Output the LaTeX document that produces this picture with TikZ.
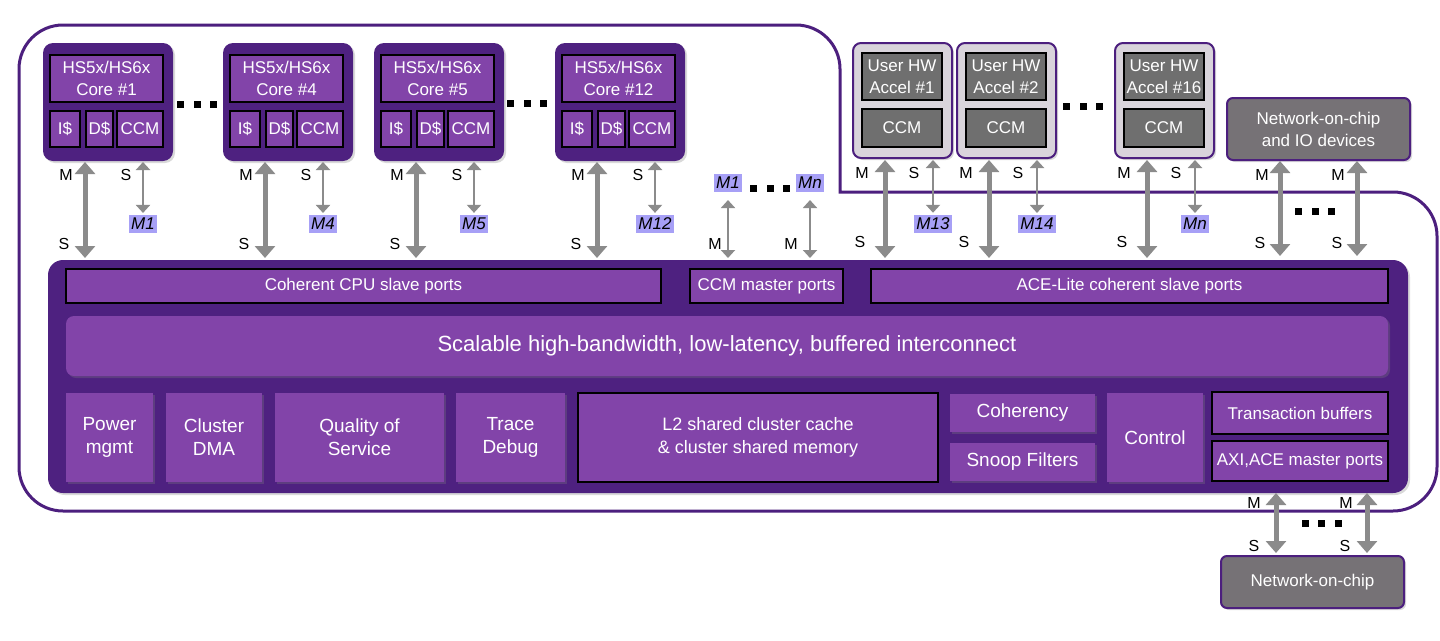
\documentclass[tikz,border=0pt]{standalone}
\usepackage{fontspec}
\setmainfont{Liberation Sans}
\usetikzlibrary{arrows.meta,shadows,calc}
\definecolor{dpur}{HTML}{4E2180}
\definecolor{lpur}{HTML}{8244A9}
\definecolor{outl}{HTML}{4C1F7E}
\definecolor{arrg}{HTML}{8B8B8B}
\definecolor{accbg}{HTML}{D9D4DB}
\definecolor{gry}{HTML}{6F6F6F}
\definecolor{nocg}{HTML}{767276}
\definecolor{hlc}{HTML}{A7A0F6}
\newcommand\sqdots[2]{\foreach \i in {0,1,2}{\fill[black] (#1+\i*16.5-3.5,#2-3.5) rectangle ++(7,7);}}
\begin{document}
\begin{tikzpicture}[x=1pt,y=-1pt,
  t16/.style={font=\fontsize{16}{20}\selectfont},
  t17/.style={font=\fontsize{17}{22}\selectfont},
  t19/.style={font=\fontsize{19}{23}\selectfont},
  t22/.style={font=\fontsize{22}{26}\selectfont},
  shd/.style={drop shadow={shadow xshift=2pt,shadow yshift=-2pt,opacity=0.3}},
  blk/.style={fill=lpur,text=white,inner sep=0pt,outer sep=0pt,align=center},
  bblk/.style={blk,draw=black,line width=1.2pt},
  cbox/.style={fill=dpur,rounded corners=10pt,inner sep=0pt,outer sep=0pt,shd},
  abox/.style={fill=accbg,draw=outl,line width=2pt,rounded corners=8pt,inner sep=0pt,outer sep=0pt,shd},
  gbox/.style={fill=gry,draw=black,line width=1.2pt,text=white,inner sep=0pt,outer sep=0pt,align=center},
  nbox/.style={fill=nocg,draw=outl,line width=2pt,rounded corners=6pt,text=white,inner sep=0pt,outer sep=0pt,align=center,shd},
  ms/.style={t16,inner sep=0pt},
  hl/.style={fill=hlc,font={\fontsize{17}{20}\selectfont\itshape},inner xsep=2pt,inner ysep=3pt},
  bigarr/.style={draw=arrg,line width=5pt,{Triangle[width=20pt,length=12pt]}-{Triangle[width=20pt,length=12pt]}},
  smarr/.style={draw=arrg,line width=2.5pt,{Triangle[width=14pt,length=8pt]}-{Triangle[width=14pt,length=8pt]}}
]
\useasboundingbox (0,0) rectangle (1440,640);
% outline
\draw[outl,line width=3pt] (19,300) -- (19,69) .. controls (19,44.7) and (38.7,25) .. (63,25) -- (796,25) .. controls (820.3,25) and (840,44.7) .. (840,69) -- (840,192) -- (1393,192) .. controls (1417.3,192) and (1437,211.7) .. (1437,236) -- (1437,467) .. controls (1437,491.3) and (1417.3,511) .. (1393,511) -- (63,511) .. controls (38.7,511) and (19,491.3) .. (19,467) -- cycle;
% main cluster
\node[fill=dpur,rounded corners=15pt,minimum width=1360pt,minimum height=233pt,inner sep=0pt,outer sep=0pt,shd] (main) at (728,376.5) {};
\node[bblk,t17,minimum width=595pt,minimum height=34pt] (ccpu) at (363.5,286) {Coherent CPU slave ports};
\node[bblk,t17,minimum width=153pt,minimum height=34pt] (ccmp) at (766.5,286) {CCM master ports};
\node[bblk,t17,minimum width=517pt,minimum height=34pt] (ace) at (1129.5,286) {ACE-Lite coherent slave ports};
\node[blk,t22,rounded corners=8pt,minimum width=1322pt,minimum height=60pt,shd] (icn) at (727,346) {Scalable high-bandwidth, low-latency, buffered interconnect};
\node[blk,t19,minimum width=87pt,minimum height=89pt,shd] (pwr) at (109.5,437.5) {Power\\mgmt};
\node[blk,t19,minimum width=96pt,minimum height=89pt,shd] (dma) at (214,437.5) {Cluster\\DMA};
\node[blk,t19,minimum width=169pt,minimum height=89pt,shd] (qos) at (359.5,437.5) {Quality of\\Service};
\node[blk,t19,minimum width=109pt,minimum height=89pt,shd] (trc) at (510.5,437.5) {Trace\\Debug};
\node[bblk,font=\fontsize{18}{23}\selectfont,minimum width=360pt,minimum height=89pt] (l2) at (758,437.5) {L2 shared cluster cache\\\& cluster shared memory};
\node[blk,t19,minimum width=145pt,minimum height=38pt,shd] (coh) at (1022.5,413) {Coherency};
\node[blk,t19,minimum width=145pt,minimum height=38pt,shd] (snp) at (1022.5,462) {Snoop Filters};
\node[blk,t19,minimum width=96pt,minimum height=89pt,shd] (ctl) at (1155,437.5) {Control};
\node[bblk,t17,minimum width=176pt,minimum height=42pt] (tb) at (1300,413) {Transaction buffers};
\node[bblk,t17,minimum width=176pt,minimum height=40pt] (axi) at (1300,461) {AXI,ACE master ports};
% cores
\foreach \n/\x/\lab in {1/43/M1,4/223/M4,5/374/M5,12/555/M12}{
  \node[cbox,minimum width=130pt,minimum height=118pt] (core\n) at (\x+65,102) {};
  \node[bblk,t17,minimum width=113pt,minimum height=47pt] (ct\n) at (\x+63.5,78.5) {HS5x/HS6x\\Core \#\n};
  \node[bblk,t17,minimum width=30pt,minimum height=36pt] (ci\n) at (\x+22,129) {I\$};
  \node[bblk,t17,minimum width=27pt,minimum height=36pt] (cd\n) at (\x+56.5,129) {D\$};
  \node[bblk,t17,minimum width=46pt,minimum height=36pt] (cc\n) at (\x+97,129) {CCM};
  \node[hl] (ml\n) at (\x+100,224) {\lab};
  \coordinate (ca\n) at ($(core\n.south west)+(42,0)$);
  \draw[bigarr,shorten <=1pt,shorten >=2pt] (ca\n) -- (ca\n |- main.north);
  \draw[smarr,shorten <=1pt,shorten >=2pt] (core\n.south -| ml\n) -- (ml\n.north);
  \node[ms] (cbm\n) at (\x+23,175) {M};
  \node[ms] (cbs\n) at (\x+21,244) {S};
  \node[ms] (css\n) at (\x+83,175) {S};
}
\sqdots{180.5}{104}
\sqdots{510.5}{103}
% middle CCM masters
\node[hl] (mm1) at (728,183) {M1};
\node[hl] (mmn) at (810,183) {Mn};
\sqdots{753.5}{188}
\draw[smarr,shorten <=8pt,shorten >=2pt] (mm1.south) -- (mm1 |- main.north);
\draw[smarr,shorten <=8pt,shorten >=2pt] (mmn.south) -- (mmn |- main.north);
\node[ms] (mmm1) at (715,244) {M};
\node[ms] (mmmn) at (791,244) {M};
% accelerators
\foreach \n/\x/\lab in {1/853/M13,2/957/M14,16/1115/Mn}{
  \node[abox,minimum width=99pt,minimum height=115pt] (acc\n) at (\x+49.5,100.5) {};
  \node[gbox,t17,minimum width=80pt,minimum height=47pt] (at\n) at (\x+49,76.5) {User HW\\Accel \#\n};
  \node[gbox,t17,minimum width=80pt,minimum height=38pt] (ac\n) at (\x+49,128) {CCM};
  \node[hl] (al\n) at (\x+80,224) {\lab};
  \coordinate (aa\n) at ($(acc\n.south west)+(32,0)$);
  \draw[bigarr,shorten <=2pt,shorten >=2pt] (aa\n) -- (aa\n |- main.north);
  \draw[smarr,shorten <=2pt,shorten >=2pt] (acc\n.south -| al\n) -- (al\n.north);
  \node[ms] (abm\n) at (\x+9,173) {M};
  \node[ms] (abs\n) at (\x+7,242) {S};
  \node[ms] (ass\n) at (\x+61,173) {S};
}
\sqdots{1066.5}{106}
% network-on-chip and IO devices
\node[nbox,t17,minimum width=183pt,minimum height=62pt] (netio) at (1318.5,129) {Network-on-chip\\and IO devices};
\coordinate (nx1) at (1280,0);
\coordinate (nx2) at (1357,0);
\draw[bigarr,shorten <=1pt,shorten >=4pt] (netio.south -| nx1) -- (nx1 |- main.north);
\draw[bigarr,shorten <=1pt,shorten >=4pt] (netio.south -| nx2) -- (nx2 |- main.north);
\node[ms] (nm1) at (1262,175) {M};
\node[ms] (nm2) at (1338,175) {M};
\node[ms] (ns1) at (1260,243) {S};
\node[ms] (ns2) at (1337,243) {S};
\sqdots{1298.5}{211}
% bottom network-on-chip
\node[nbox,t17,minimum width=183pt,minimum height=52pt] (noc) at (1312.5,582) {Network-on-chip};
\coordinate (bx1) at (1276,0);
\coordinate (bx2) at (1367,0);
\draw[bigarr,shorten <=0pt,shorten >=3pt] (main.south -| bx1) -- (noc.north -| bx1);
\draw[bigarr,shorten <=0pt,shorten >=3pt] (main.south -| bx2) -- (noc.north -| bx2);
\node[ms] (bm1) at (1254,503) {M};
\node[ms] (bm2) at (1346,503) {M};
\node[ms] (bs1) at (1254,546) {S};
\node[ms] (bs2) at (1345,546) {S};
\sqdots{1305}{523}
\end{tikzpicture}
\end{document}
